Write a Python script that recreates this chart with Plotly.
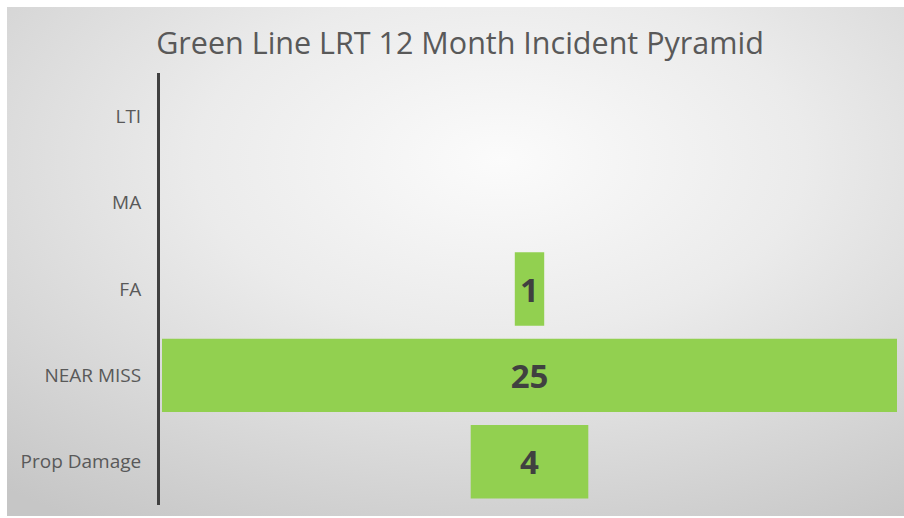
import plotly.graph_objects as go
import urllib.parse

categories = ["LTI", "MA", "FA", "NEAR MISS", "Prop Damage"]
values = [0, 0, 1, 25, 4]
labels = [str(v) if v else "" for v in values]
title_text = "Green Line LRT 12 Month Incident Pyramid"

W, H = 904, 518
ML, MR, MT, MB = 160, 6, 73, 13
pw = W - ML - MR
ph = H - MT - MB

bases = [-v / 2 for v in values]

fig = go.Figure(go.Bar(
    y=categories, x=values, base=bases, orientation="h",
    marker=dict(color="#92D050", line=dict(width=0)),
    text=labels, textposition="inside", insidetextanchor="middle",
    textangle=0,
    textfont=dict(family="Open Sans", size=33, color="#404040", weight="bold"),
    hoverinfo="skip", width=0.85,
))

bw, bh = 897, 509
svg = ('<svg xmlns="http://www.w3.org/2000/svg" width="%d" height="%d" preserveAspectRatio="none">'
       '<defs><radialGradient id="g" cx="0.55" cy="0.3" r="0.85" gradientUnits="objectBoundingBox">'
       '<stop offset="0" stop-color="#fbfbfb"/><stop offset="0.4" stop-color="#ebebeb"/>'
       '<stop offset="1" stop-color="#c6c6c6"/></radialGradient></defs>'
       '<rect width="%d" height="%d" fill="url(#g)"/></svg>') % (bw, bh, bw, bh)
src = "data:image/svg+xml;charset=utf-8," + urllib.parse.quote(svg)

x0 = (7 - ML) / pw
y_top = (H - MB - 7) / ph
fig.add_layout_image(dict(source=src, xref="paper", yref="paper", x=x0, y=y_top,
                          sizex=bw / pw, sizey=bh / ph, sizing="stretch",
                          xanchor="left", yanchor="top", layer="below"))

fig.update_layout(
    width=W, height=H,
    margin=dict(l=ML, r=MR, t=MT, b=MB),
    paper_bgcolor="white", plot_bgcolor="rgba(0,0,0,0)",
    showlegend=False, bargap=0.15,
    title=dict(text=title_text, x=460 / W, xanchor="center",
               y=1 - 43 / H, yanchor="middle",
               font=dict(family="Open Sans", size=30.5, color="#595959")),
    xaxis=dict(range=[-12.5 - 2 / 29.4, 12.5 + 1 / 29.4], visible=False, fixedrange=True),
    yaxis=dict(categoryorder="array", categoryarray=categories, autorange="reversed",
               showgrid=False, zeroline=False, showline=True, linecolor="#404040", linewidth=3,
               ticks="", ticklabelstandoff=12, fixedrange=True,
               tickfont=dict(family="Open Sans", size=19, color="#595959")),
)

fig.write_html("out.html", config={"displayModeBar": False},
               post_script="document.body.style.margin='0';document.body.style.overflow='hidden';")
